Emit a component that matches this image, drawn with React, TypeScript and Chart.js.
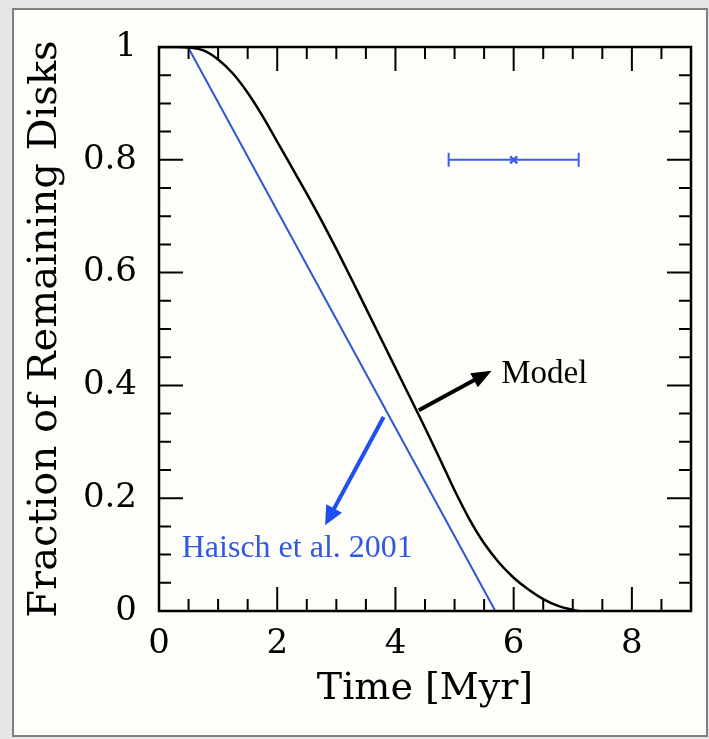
import React, { useEffect, useRef } from "react";
import { Chart, registerables } from "chart.js";

Chart.register(...registerables);

// Model curve (black)
const modelX = [0, 0.3, 0.5, 0.75, 1.0, 1.25, 1.5, 1.75, 2.0, 2.25, 2.5, 2.75, 3.0, 3.25, 3.5, 3.75, 4.0, 4.25, 4.5, 4.75, 5.0, 5.25, 5.5, 5.75, 6.0, 6.25, 6.5, 6.75, 7.0, 7.1];
const modelY = [1, 1, 0.999, 0.994, 0.978, 0.953, 0.919, 0.878, 0.832, 0.786, 0.74, 0.692, 0.642, 0.59, 0.537, 0.484, 0.431, 0.378, 0.325, 0.27, 0.214, 0.163, 0.12, 0.086, 0.059, 0.038, 0.021, 0.009, 0.002, 0];

// Haisch et al. 2001 linear fit (blue)
const haischX = [0.49, 5.69];
const haischY = [1, 0];

// Error bar
const errX = [4.9, 7.1];
const errY = [0.8, 0.8];
const errCenterX = [6];
const errCenterY = [0.8];

// Ticks
const xTickValues = [0, 2, 4, 6, 8];
const xTickLabels = ["0", "2", "4", "6", "8"];
const xMinorValues = [0.5, 1, 1.5, 2.5, 3, 3.5, 4.5, 5, 5.5, 6.5, 7, 7.5, 8.5];
const yTickValues = [0, 0.2, 0.4, 0.6, 0.8, 1];
const yTickLabels = ["0", "0.2", "0.4", "0.6", "0.8", "1"];
const yMinorValues = [0.05, 0.1, 0.15, 0.25, 0.3, 0.35, 0.45, 0.5, 0.55, 0.65, 0.7, 0.75, 0.85, 0.9, 0.95];

// Annotations (data coordinates)
const modelArrow = [4.395, 0.356, 5.627, 0.426];
const haischArrow = [3.8, 0.344, 2.81, 0.152];
const modelLabel = { text: "Model", x: 5.79, y: 0.4035 };
const haischLabel = { text: "Haisch et al. 2001", x: 0.385, y: 0.0962 };

const BLUE_LINE = "#2f55d6";
const BLUE_ARROW = "#1f4ff0";

function drawArrow(ctx: CanvasRenderingContext2D, x1: number, y1: number, x2: number, y2: number, color: string, lw: number, headLen: number, headHalf: number) {
  const dx = x2 - x1, dy = y2 - y1;
  const len = Math.hypot(dx, dy);
  const ux = dx / len, uy = dy / len;
  const bx = x2 - ux * headLen, by = y2 - uy * headLen;
  ctx.save();
  ctx.strokeStyle = color;
  ctx.fillStyle = color;
  ctx.lineWidth = lw;
  ctx.beginPath();
  ctx.moveTo(x1, y1);
  ctx.lineTo(bx + ux * 2, by + uy * 2);
  ctx.stroke();
  ctx.beginPath();
  ctx.moveTo(x2, y2);
  ctx.lineTo(bx - uy * headHalf, by + ux * headHalf);
  ctx.lineTo(bx + uy * headHalf, by - ux * headHalf);
  ctx.closePath();
  ctx.fill();
  ctx.restore();
}

const decor = {
  id: "decor",
  beforeDraw(chart: any) {
    const { ctx, width, height } = chart;
    ctx.save();
    ctx.fillStyle = "#e6e6e6";
    ctx.fillRect(0, 0, width, height);
    ctx.fillStyle = "#fdfdf9";
    ctx.fillRect(13, 9, 694, 727);
    ctx.strokeStyle = "#808080";
    ctx.lineWidth = 2;
    ctx.strokeRect(13, 9, 694, 727);
    ctx.restore();
  },
  afterDatasetsDraw(chart: any) {
    const { ctx, chartArea } = chart;
    const xs = chart.scales.x;
    const ys = chart.scales.y;
    const { left, right, top, bottom } = chartArea;
    ctx.save();
    ctx.strokeStyle = "#000";
    ctx.lineWidth = 2;
    const major = 24, minor = 12;
    const tickX = (v: number, L: number) => {
      const p = xs.getPixelForValue(v);
      ctx.beginPath();
      ctx.moveTo(p, bottom);
      ctx.lineTo(p, bottom - L);
      ctx.moveTo(p, top);
      ctx.lineTo(p, top + L);
      ctx.stroke();
    };
    const tickY = (v: number, L: number) => {
      const p = ys.getPixelForValue(v);
      ctx.beginPath();
      ctx.moveTo(left, p);
      ctx.lineTo(left + L, p);
      ctx.moveTo(right, p);
      ctx.lineTo(right - L, p);
      ctx.stroke();
    };
    xTickValues.forEach((v) => tickX(v, major));
    xMinorValues.forEach((v) => tickX(v, minor));
    yTickValues.forEach((v) => tickY(v, major));
    yMinorValues.forEach((v) => tickY(v, minor));
    ctx.lineWidth = 2.5;
    ctx.strokeRect(left, top, right - left, bottom - top);
    ctx.restore();

    drawArrow(ctx, xs.getPixelForValue(modelArrow[0]), ys.getPixelForValue(modelArrow[1]), xs.getPixelForValue(modelArrow[2]), ys.getPixelForValue(modelArrow[3]), "#000", 4, 20, 8);
    drawArrow(ctx, xs.getPixelForValue(haischArrow[0]), ys.getPixelForValue(haischArrow[1]), xs.getPixelForValue(haischArrow[2]), ys.getPixelForValue(haischArrow[3]), BLUE_ARROW, 4, 19, 9);

    ctx.save();
    ctx.font = '33px "Liberation Serif"';
    ctx.textBaseline = "alphabetic";
    ctx.textAlign = "left";
    ctx.fillStyle = "#000";
    ctx.fillText(modelLabel.text, xs.getPixelForValue(modelLabel.x), ys.getPixelForValue(modelLabel.y));
    ctx.font = '32px "Liberation Serif"';
    ctx.fillStyle = "#3158e0";
    ctx.fillText(haischLabel.text, xs.getPixelForValue(haischLabel.x), ys.getPixelForValue(haischLabel.y));
    ctx.restore();
  },
};

export default function App() {
  const ref = useRef<HTMLCanvasElement>(null);
  useEffect(() => {
    if (!ref.current) return;
    const chart = new Chart(ref.current, {
      type: "line",
      data: {
        datasets: [
          {
            data: modelX.map((x, i) => ({ x, y: modelY[i] })),
            borderColor: "#000",
            borderWidth: 2.5,
            pointRadius: 0,
            cubicInterpolationMode: "monotone",
          },
          {
            data: haischX.map((x, i) => ({ x, y: haischY[i] })),
            borderColor: BLUE_LINE,
            borderWidth: 2,
            pointRadius: 0,
          },
          {
            data: errX.map((x, i) => ({ x, y: errY[i] })),
            borderColor: "#3a5ee6",
            borderWidth: 2,
            pointStyle: "line",
            pointRotation: 90,
            pointRadius: 7,
            pointBorderWidth: 2,
            pointBorderColor: "#3a5ee6",
          },
          {
            data: errCenterX.map((x, i) => ({ x, y: errCenterY[i] })),
            showLine: false,
            pointStyle: "crossRot",
            pointRadius: 5,
            pointBorderWidth: 2.5,
            pointBorderColor: "#3a5ee6",
            borderColor: "#3a5ee6",
          },
        ],
      },
      options: {
        animation: false,
        responsive: false,
        devicePixelRatio: 1,
        layout: { padding: { left: 0, top: 47, right: 18, bottom: 0 } },
        plugins: { legend: { display: false }, tooltip: { enabled: false } },
        scales: {
          x: {
            type: "linear",
            min: 0,
            max: 9,
            grid: { display: false, drawTicks: false },
            border: { display: false },
            afterBuildTicks: (s: any) => {
              s.ticks = xTickValues.map((v) => ({ value: v }));
            },
            afterFit: (s: any) => {
              s.height = 128;
            },
            ticks: {
              padding: 13,
              color: "#000",
              font: { family: "DejaVu Serif", size: 34, lineHeight: 1.2 },
              callback: (v: any) => {
                const i = xTickValues.indexOf(Number(v));
                return i >= 0 ? xTickLabels[i] : "";
              },
            },
            title: {
              display: true,
              text: "Time [Myr]",
              color: "#000",
              font: { family: "DejaVu Serif", size: 38, lineHeight: 1.2 },
              padding: { top: 0, bottom: 27 },
            },
          },
          y: {
            type: "linear",
            min: 0,
            max: 1,
            grid: { display: false, drawTicks: false },
            border: { display: false },
            afterBuildTicks: (s: any) => {
              s.ticks = yTickValues.map((v) => ({ value: v }));
            },
            afterFit: (s: any) => {
              s.width = 159;
            },
            ticks: {
              padding: 22,
              color: "#000",
              font: { family: "DejaVu Serif", size: 34, lineHeight: 1.2 },
              callback: (v: any) => {
                const i = yTickValues.findIndex((t) => Math.abs(t - Number(v)) < 1e-9);
                return i >= 0 ? yTickLabels[i] : "";
              },
            },
            title: {
              display: true,
              text: "Fraction of Remaining Disks",
              color: "#000",
              font: { family: "DejaVu Serif", size: 40, lineHeight: 1.2 },
              padding: { top: 22, bottom: 0 },
            },
          },
        },
      },
      plugins: [decor],
    } as any);
    return () => chart.destroy();
  }, []);
  return (
    <canvas
      ref={ref}
      width={709}
      height={739}
      style={{ position: "fixed", left: 0, top: 0, width: 709, height: 739 }}
    />
  );
}
